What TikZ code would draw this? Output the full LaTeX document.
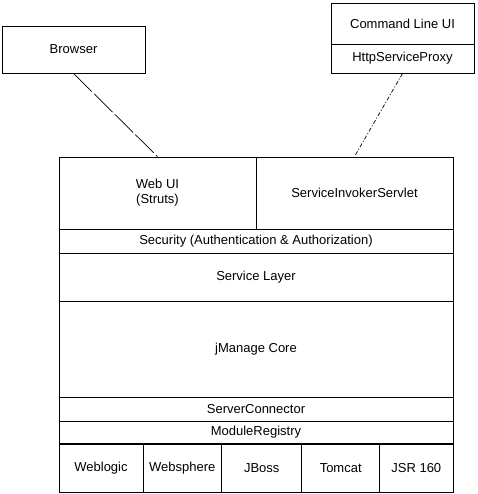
\documentclass[tikz,border=0pt]{standalone}
\usepackage{fontspec}
\setmainfont{Liberation Sans}
\tikzset{
  cell/.style={draw, line width=.9pt, inner sep=0pt, align=center,
    font=\fontsize{13}{15}\selectfont},
  weblink/.style={line width=.7pt, dash pattern=on 26pt off 3pt},
  clilink/.style={line width=.7pt, dash pattern=on 4pt off 2pt on 1pt off 2pt}
}
\begin{document}
\begin{tikzpicture}[x=1pt, y=-1pt]
\useasboundingbox (0,0) rectangle (477,494);
% clients
\node[cell, minimum width=143pt, minimum height=47pt] (browser) at (73.5,49.5) {Browser};
\node[cell, minimum width=143pt, minimum height=41pt] (cli) at (402.5,23.5) {Command Line UI};
\node[cell, minimum width=143pt, minimum height=29pt] (proxy) at (402.5,58.5) {HttpServiceProxy};
% server stack
\node[cell, minimum width=197pt, minimum height=72pt] (webui) at (157.5,193) {Web UI\\(Struts)};
\node[cell, minimum width=197pt, minimum height=72pt] (servlet) at (354.5,193) {ServiceInvokerServlet};
\node[cell, minimum width=394pt, minimum height=24pt] (security) at (256,241) {Security (Authentication \& Authorization)};
\node[cell, minimum width=394pt, minimum height=48pt] (service) at (256,277) {Service Layer};
\node[cell, minimum width=394pt, minimum height=96pt] (core) at (256,349) {jManage Core};
\node[cell, minimum width=394pt, minimum height=24pt] (connector) at (256,409.5) {ServerConnector};
\node[cell, minimum width=394pt, minimum height=22pt] (registry) at (256,432.5) {ModuleRegistry};
% application servers
\node[cell, minimum width=84pt, minimum height=48pt] (weblogic) at (101,468) {Weblogic};
\node[cell, minimum width=78.7pt, minimum height=48pt] (websphere) at (182.3,468) {Websphere};
\node[cell, minimum width=80pt, minimum height=48pt] (jboss) at (261.7,468) {JBoss};
\node[cell, minimum width=78pt, minimum height=48pt] (tomcat) at (340.7,468) {Tomcat};
\node[cell, minimum width=73.3pt, minimum height=48pt] (jsr) at (416.3,468) {JSR 160};
% links
\draw[weblink] (browser.south) -- (webui.north);
\draw[clilink] (proxy.south) -- (servlet.north);
\end{tikzpicture}
\end{document}
